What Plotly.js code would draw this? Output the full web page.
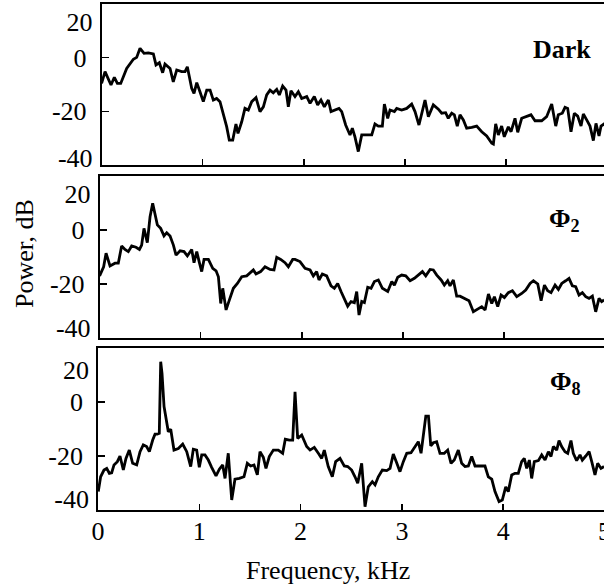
<!DOCTYPE html>
<html>
<head>
<meta charset="utf-8">
<script src="https://cdn.plot.ly/plotly-3.0.1.min.js"></script>
<style>
html,body{margin:0;padding:0;overflow:hidden;background:#fff;}
#chart{width:612px;height:587px;}
</style>
</head>
<body>
<div id="chart"></div>
<script>
// ---- Data (frequency in kHz, power in dB) ----
const freqDark = [0,0.034,0.093,0.126,0.156,0.189,0.248,0.314,0.347,0.38,
0.42,0.462,0.512,0.538,0.571,0.604,0.627,0.677,0.709,0.743,
0.792,0.825,0.848,0.891,0.914,0.941,0.973,1.006,1.04,1.073,
1.105,1.138,1.171,1.204,1.237,1.263,1.297,1.329,1.349,1.386,
1.418,1.451,1.485,1.527,1.567,1.6,1.633,1.666,1.698,1.732,
1.758,1.791,1.824,1.847,1.873,1.913,1.946,1.979,2.029,2.062,
2.104,2.137,2.17,2.203,2.243,2.269,2.302,2.348,2.375,2.414,
2.457,2.48,2.506,2.539,2.573,2.622,2.672,2.704,2.737,2.777,
2.797,2.83,2.853,2.896,2.919,2.968,3.018,3.067,3.1,3.139,
3.166,3.199,3.232,3.281,3.331,3.364,3.403,3.429,3.463,3.489,
3.518,3.545,3.578,3.611,3.661,3.71,3.76,3.809,3.859,3.875,
3.898,3.924,3.957,3.983,4.023,4.05,4.089,4.116,4.155,4.205,
4.247,4.287,4.353,4.402,4.452,4.492,4.517,4.557,4.584,4.61,
4.643,4.676,4.709,4.742,4.765,4.798,4.831,4.864,4.89,4.92,
4.94,4.97,5.0];
const powerDark = [-9.6,-5.2,-10.2,-7.3,-9.6,-9.6,-4.0,-0.6,0.1,3.5,
1.6,1.8,1.4,-2.7,-1.9,-5.6,-2.4,-4.0,-9.0,-4.6,
-5.2,-5.2,-3.4,-11.4,-13.3,-9.3,-12.7,-16.4,-12.1,-12.1,
-15.8,-15.2,-16.4,-20.7,-25.7,-30.7,-30.7,-24.7,-28.2,-23.9,
-18.9,-19.5,-16.4,-14.9,-20.1,-18.3,-13.9,-12.1,-13.1,-11.8,
-13.9,-10.6,-12.1,-18.3,-12.3,-14.5,-12.7,-15.2,-14.5,-17.0,
-14.5,-17.6,-15.8,-18.3,-15.8,-20.1,-19.5,-18.9,-20.1,-25.1,
-28.8,-26.3,-29.5,-35.0,-28.8,-28.8,-28.8,-24.7,-25.5,-25.5,
-17.3,-22.6,-19.5,-20.1,-18.9,-19.5,-18.9,-17.3,-20.1,-25.1,
-20.7,-15.8,-22.0,-17.6,-19.2,-20.7,-20.5,-22.6,-20.7,-21.3,
-25.5,-21.3,-23.2,-26.3,-26.0,-25.5,-27.6,-29.2,-31.9,-32.2,
-24.7,-28.8,-25.5,-29.5,-25.8,-27.6,-22.6,-27.8,-22.6,-22.0,
-21.3,-23.5,-23.5,-22.0,-17.3,-25.5,-21.3,-20.7,-18.5,-18.9,
-27.6,-20.7,-21.8,-25.5,-21.0,-23.2,-25.5,-30.9,-24.5,-29.2,
-25.5,-24.7,-26.0];

const freqPhi2 = [0,0.04,0.064,0.103,0.152,0.185,0.218,0.251,0.284,0.317,
0.36,0.394,0.416,0.439,0.472,0.499,0.525,0.548,0.571,0.604,
0.637,0.664,0.697,0.73,0.756,0.796,0.835,0.868,0.911,0.934,
0.961,0.987,1.01,1.033,1.076,1.119,1.152,1.175,1.198,1.218,
1.251,1.284,1.323,1.363,1.406,1.455,1.495,1.521,1.547,1.593,
1.636,1.686,1.725,1.752,1.791,1.834,1.867,1.91,1.933,1.982,
2.032,2.082,2.114,2.147,2.17,2.203,2.246,2.289,2.322,2.355,
2.388,2.421,2.454,2.487,2.52,2.543,2.566,2.593,2.619,2.652,
2.685,2.718,2.757,2.797,2.85,2.89,2.916,2.949,2.988,3.028,
3.071,3.114,3.16,3.193,3.226,3.269,3.301,3.335,3.378,3.41,
3.443,3.466,3.499,3.532,3.565,3.615,3.654,3.697,3.74,3.78,
3.813,3.846,3.879,3.905,3.938,3.971,4.004,4.043,4.083,4.126,
4.175,4.215,4.258,4.291,4.334,4.367,4.4,4.432,4.465,4.505,
4.538,4.571,4.61,4.643,4.676,4.709,4.742,4.775,4.808,4.841,
4.874,4.907,4.94,4.966,4.99];
const powerPhi2 = [-17.0,-13.6,-8.6,-13.3,-12.3,-12.3,-5.9,-7.2,-8.0,-5.9,
-6.4,-7.2,-5.6,0.6,-4.7,4.9,9.9,6.2,1.9,0.6,
-2.2,-1.0,-2.2,-5.6,-9.3,-7.7,-8.0,-9.6,-7.2,-12.1,
-8.0,-12.1,-15.4,-10.9,-10.9,-14.2,-15.1,-17.3,-27.2,-21.6,
-29.6,-25.9,-21.6,-19.8,-17.3,-17.0,-15.8,-14.8,-16.3,-15.4,
-13.6,-14.6,-14.8,-10.1,-10.9,-12.1,-13.6,-10.9,-10.9,-11.7,
-14.2,-14.8,-17.0,-15.4,-18.5,-16.3,-17.0,-20.7,-21.6,-19.8,
-22.8,-25.3,-28.2,-26.5,-26.9,-22.8,-31.5,-26.5,-26.9,-21.2,
-21.6,-19.1,-18.5,-21.6,-22.8,-19.1,-20.4,-17.5,-16.7,-17.0,
-18.8,-17.9,-16.3,-15.4,-17.0,-14.6,-14.8,-16.7,-18.5,-20.4,
-18.8,-20.7,-18.5,-24.5,-24.5,-25.3,-26.2,-30.3,-29.4,-28.4,
-29.6,-23.7,-27.2,-24.7,-28.4,-24.1,-25.0,-23.2,-22.5,-24.7,
-23.5,-22.2,-19.8,-18.8,-20.0,-26.2,-20.4,-22.5,-23.2,-20.4,
-22.0,-19.8,-18.8,-17.9,-20.7,-21.0,-24.1,-23.2,-24.7,-25.3,
-24.5,-30.3,-25.3,-26.5,-25.9];

const freqPhi8 = [0.003,0.026,0.059,0.086,0.112,0.135,0.158,0.191,0.217,0.25,
0.276,0.309,0.342,0.382,0.415,0.447,0.48,0.507,0.54,0.563,
0.585,0.605,0.619,0.632,0.652,0.678,0.694,0.718,0.75,0.793,
0.836,0.876,0.915,0.941,0.974,1.0,1.024,1.056,1.089,1.122,
1.165,1.198,1.231,1.254,1.286,1.32,1.352,1.395,1.441,1.474,
1.507,1.54,1.573,1.599,1.632,1.658,1.691,1.731,1.78,1.823,
1.849,1.889,1.922,1.945,1.971,2.011,2.06,2.093,2.135,2.175,
2.208,2.234,2.273,2.313,2.346,2.389,2.431,2.465,2.504,2.537,
2.564,2.603,2.636,2.668,2.708,2.735,2.767,2.807,2.85,2.883,
2.915,2.95,2.981,3.014,3.048,3.09,3.129,3.162,3.189,3.212,
3.236,3.262,3.285,3.31,3.343,3.376,3.418,3.452,3.485,3.517,
3.557,3.59,3.623,3.656,3.689,3.722,3.771,3.82,3.853,3.887,
3.919,3.959,3.991,4.025,4.05,4.084,4.116,4.149,4.182,4.208,
4.232,4.258,4.281,4.307,4.347,4.38,4.413,4.446,4.472,4.495,
4.528,4.551,4.577,4.61,4.637,4.669,4.692,4.725,4.758,4.781,
4.815,4.848,4.874,4.906,4.933,4.965,4.995];
const powerPhi8 = [-33.2,-27.7,-25.2,-24.6,-26.4,-26.2,-23.3,-22.1,-20.0,-25.2,
-20.9,-17.8,-22.7,-23.3,-18.4,-15.9,-16.5,-18.4,-14.1,-11.9,
-11.9,-11.6,14.9,10.6,-1.7,-8.5,-11.0,-10.1,-17.8,-17.2,
-15.6,-18.4,-23.9,-17.5,-17.8,-24.2,-19.6,-19.6,-21.5,-24.2,
-27.4,-24.9,-23.3,-28.3,-19.0,-36.3,-28.6,-28.3,-27.7,-22.7,
-23.7,-23.3,-27.0,-18.4,-20.5,-24.6,-20.2,-17.8,-17.8,-19.0,
-13.8,-14.1,-14.1,3.8,-13.5,-12.2,-16.5,-17.8,-16.8,-19.0,
-20.9,-17.8,-23.9,-27.7,-22.1,-20.9,-23.7,-23.9,-25.2,-27.7,
-30.1,-22.7,-38.8,-31.4,-29.5,-30.7,-27.7,-25.2,-25.4,-24.6,
-19.3,-22.7,-25.8,-22.1,-19.0,-18.8,-16.5,-14.7,-19.0,-11.0,
-5.2,-5.2,-16.3,-15.1,-14.7,-19.0,-19.0,-17.8,-22.7,-21.5,
-17.8,-22.7,-23.9,-23.7,-20.2,-23.7,-23.7,-23.7,-27.7,-28.6,
-33.2,-36.9,-36.3,-31.4,-33.2,-27.0,-26.4,-26.4,-22.1,-20.9,
-24.6,-21.5,-28.3,-22.1,-21.7,-19.6,-21.5,-18.4,-20.2,-16.5,
-17.8,-14.3,-16.5,-18.4,-19.0,-14.3,-19.0,-21.7,-19.6,-21.5,
-20.0,-18.4,-22.1,-27.0,-22.7,-24.6,-23.9];

const panelNames = ['Dark', 'Φ<sub>2</sub>', 'Φ<sub>8</sub>'];
const xTickVals = [0, 1, 2, 3, 4, 5];
const xTickText = ['0', '1', '2', '3', '4', '5'];
const yTickVals = [0, -20];
const yTickText = ['0', '-20'];
const yEndTickVals = [20, -40];
const yEndTickText = ['20', '-40'];
const xTitle = 'Frequency, kHz';
const yTitle = 'Power, dB';

// ---- Layout geometry (pixels) ----
const W = 612, H = 587;
const FONT = 'Liberation Serif, Times New Roman, serif';
const fx = p => p / W;
const fy = p => 1 - p / H;
const panels = [
  {x0: 101.6, x1: 607.1, top: 4,   bot: 165, lab: [-43.09, 27.94], ann: [4.86, 3.2]},
  {x0: 99.6,  x1: 605.1, top: 176, bot: 338, lab: [-44.7, 27.84],  ann: [4.77, 3.7]},
  {x0: 98.0,  x1: 604.5, top: 348, bot: 510, lab: [-45.1, 30.2],   ann: [4.79, 7.0]}
];
const series = [[freqDark, powerDark], [freqPhi2, powerPhi2], [freqPhi8, powerPhi8]];

const traces = [];
const layout = {
  width: W, height: H,
  margin: {l: 0, r: 0, t: 0, b: 0},
  paper_bgcolor: '#fff', plot_bgcolor: '#fff',
  showlegend: false,
  font: {family: FONT, size: 26, color: '#000'},
  annotations: []
};

panels.forEach((p, i) => {
  const n = i + 1;
  const xa = n === 1 ? 'x' : 'x' + n;
  const ya = n === 1 ? 'y' : 'y' + n;
  const yl = 'y' + (n + 3);
  traces.push({x: series[i][0], y: series[i][1], xaxis: xa, yaxis: ya,
    type: 'scatter', mode: 'lines', line: {color: '#000', width: 2.8},
    hoverinfo: 'skip'});
  traces.push({x: [], y: [], xaxis: xa, yaxis: yl, type: 'scatter', mode: 'lines',
    hoverinfo: 'skip'});
  layout[n === 1 ? 'xaxis' : 'xaxis' + n] = {
    domain: [fx(p.x0), fx(p.x1)], anchor: ya, range: [0, 5],
    tickvals: xTickVals, ticktext: xTickText,
    ticks: 'inside', ticklen: 6, tickwidth: 1.5, tickcolor: '#000',
    showticklabels: n === 3, ticklabelstandoff: -3,
    tickfont: {family: FONT, size: 26, color: '#000'},
    showline: true, mirror: true, linecolor: '#000', linewidth: 1.8,
    showgrid: false, zeroline: false, fixedrange: true
  };
  layout[n === 1 ? 'yaxis' : 'yaxis' + n] = {
    domain: [fy(p.bot), fy(p.top)], anchor: xa, range: [-40, 20],
    tickvals: yTickVals, ticktext: yTickText,
    ticks: 'inside', ticklen: 7, tickwidth: 1.5, tickcolor: '#000',
    showticklabels: true, ticklabelstandoff: 8,
    tickfont: {family: FONT, size: 26, color: '#000'},
    showline: true, mirror: true, linecolor: '#000', linewidth: 1.8,
    showgrid: false, zeroline: false, fixedrange: true
  };
  layout['yaxis' + (n + 3)] = {
    overlaying: ya, anchor: xa, side: 'left', range: p.lab,
    tickvals: yEndTickVals, ticktext: yEndTickText,
    ticks: '', showticklabels: true, ticklabelstandoff: 8,
    tickfont: {family: FONT, size: 26, color: '#000'},
    showline: false, showgrid: false, zeroline: false, fixedrange: true
  };
  layout.annotations.push({
    text: '<b>' + panelNames[i] + '</b>', xref: xa, yref: ya,
    x: p.ann[0], y: p.ann[1], xanchor: 'right', yanchor: 'middle',
    showarrow: false, font: {family: FONT, size: 26, color: '#000'}
  });
});

layout.annotations.push({
  text: xTitle, xref: 'paper', yref: 'paper', x: fx(328), y: fy(570),
  xanchor: 'center', yanchor: 'middle', showarrow: false,
  font: {family: FONT, size: 26, color: '#000'}
});
layout.annotations.push({
  text: yTitle, xref: 'paper', yref: 'paper', x: fx(24), y: fy(254),
  xanchor: 'center', yanchor: 'middle', textangle: -90, showarrow: false,
  font: {family: FONT, size: 26, color: '#000'}
});

Plotly.newPlot('chart', traces, layout, {displayModeBar: false, staticPlot: true});
</script>
</body>
</html>
